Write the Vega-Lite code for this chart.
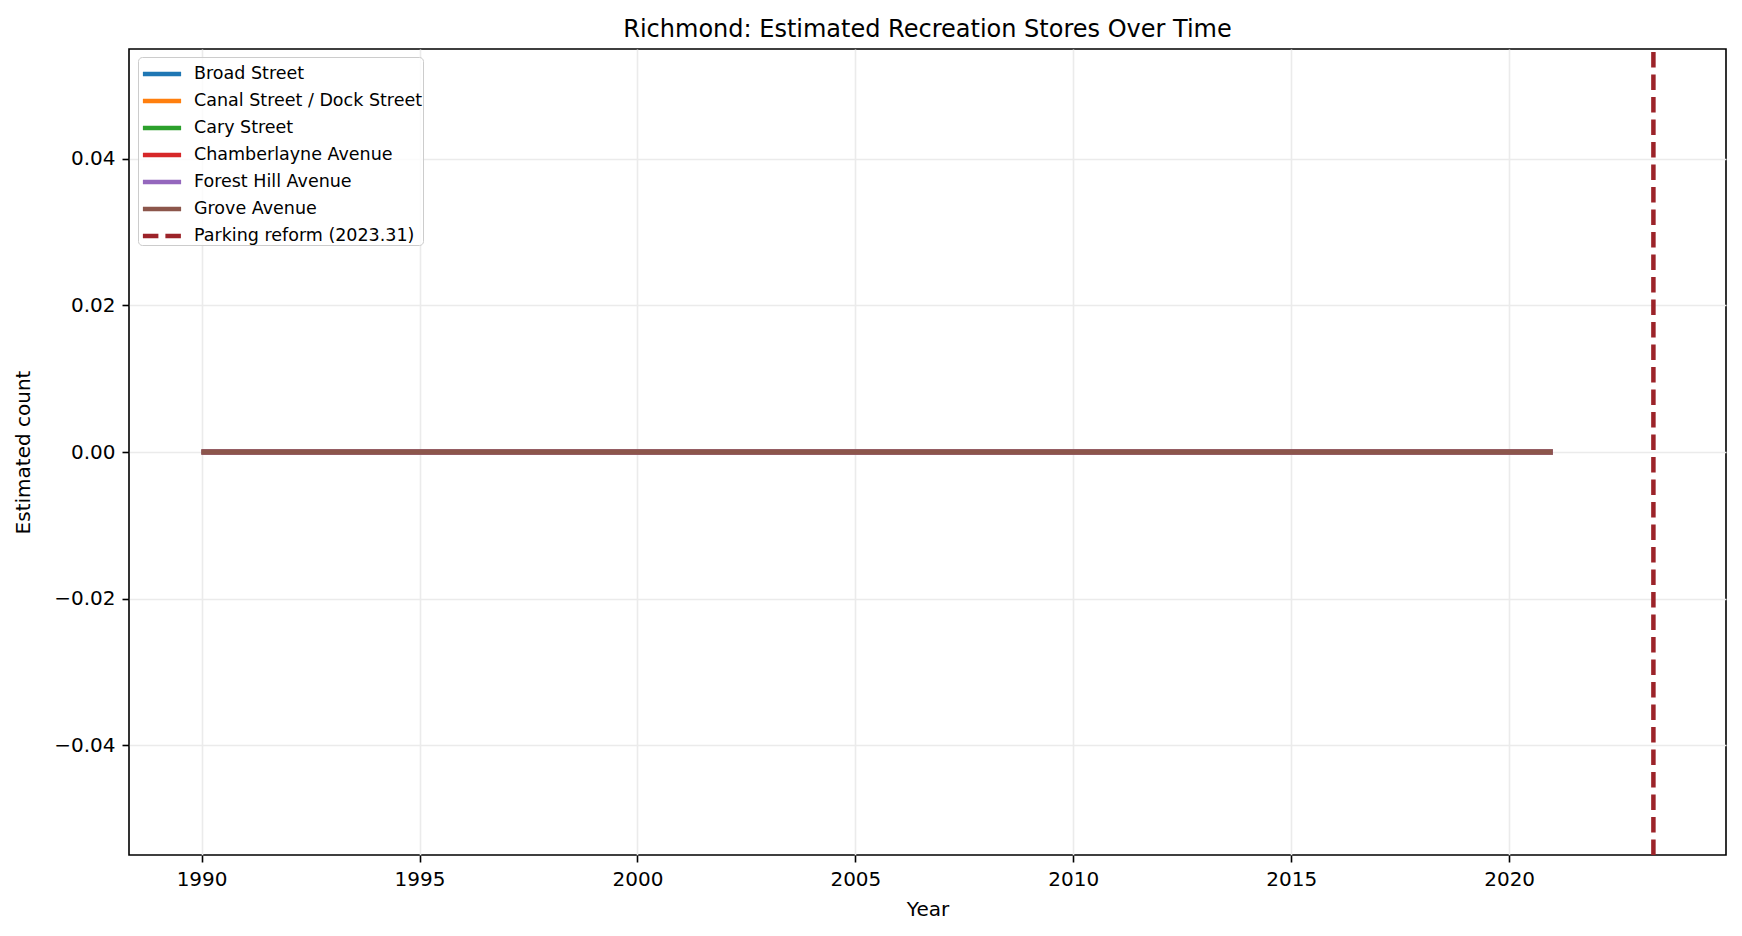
{
  "$schema": "https://vega.github.io/schema/vega-lite/v6.json",
  "width": 1597,
  "height": 806,
  "autosize": {"type": "none"},
  "padding": {"left": 129, "top": 49, "right": 16, "bottom": 81},
  "background": "white",
  "title": {
    "text": "Richmond: Estimated Recreation Stores Over Time",
    "font": "DejaVu Sans",
    "fontSize": 24,
    "fontWeight": "normal",
    "color": "black",
    "anchor": "middle",
    "frame": "group",
    "baseline": "alphabetic",
    "offset": 12,
    "dy": 26
  },
  "config": {
    "view": {"stroke": "black", "strokeWidth": 1.6},
    "axis": {
      "labelFont": "DejaVu Sans",
      "labelFontSize": 20,
      "labelColor": "black",
      "labelPadding": 7,
      "tickColor": "black",
      "tickSize": 7,
      "tickWidth": 1.6,
      "domain": false,
      "grid": true,
      "gridColor": "#ebebeb",
      "gridWidth": 1.6,
      "titleFont": "DejaVu Sans",
      "titleFontSize": 20,
      "titleFontWeight": "normal",
      "titleColor": "black"
    },
    "legend": {
      "labelFont": "DejaVu Sans",
      "labelFontSize": 17.5,
      "labelColor": "black",
      "labelLimit": 0,
      "symbolType": "M-1.3,0H1.3",
      "symbolSize": 864,
      "symbolStrokeWidth": 4.5,
      "symbolOffset": 7,
      "labelOffset": 15,
      "rowPadding": 1,
      "padding": 0,
      "strokeColor": "#cccccc",
      "fillColor": "rgba(255,255,255,0.8)",
      "cornerRadius": 4
    }
  },
  "layer": [
    {
      "data": {
        "values": [
          {"street": "Broad Street", "year": 1990, "count": 0},
          {"street": "Broad Street", "year": 1995, "count": 0},
          {"street": "Broad Street", "year": 2000, "count": 0},
          {"street": "Broad Street", "year": 2005, "count": 0},
          {"street": "Broad Street", "year": 2010, "count": 0},
          {"street": "Broad Street", "year": 2015, "count": 0},
          {"street": "Broad Street", "year": 2020, "count": 0},
          {"street": "Broad Street", "year": 2021, "count": 0},
          {"street": "Canal Street / Dock Street", "year": 1990, "count": 0},
          {"street": "Canal Street / Dock Street", "year": 1995, "count": 0},
          {"street": "Canal Street / Dock Street", "year": 2000, "count": 0},
          {"street": "Canal Street / Dock Street", "year": 2005, "count": 0},
          {"street": "Canal Street / Dock Street", "year": 2010, "count": 0},
          {"street": "Canal Street / Dock Street", "year": 2015, "count": 0},
          {"street": "Canal Street / Dock Street", "year": 2020, "count": 0},
          {"street": "Canal Street / Dock Street", "year": 2021, "count": 0},
          {"street": "Cary Street", "year": 1990, "count": 0},
          {"street": "Cary Street", "year": 1995, "count": 0},
          {"street": "Cary Street", "year": 2000, "count": 0},
          {"street": "Cary Street", "year": 2005, "count": 0},
          {"street": "Cary Street", "year": 2010, "count": 0},
          {"street": "Cary Street", "year": 2015, "count": 0},
          {"street": "Cary Street", "year": 2020, "count": 0},
          {"street": "Cary Street", "year": 2021, "count": 0},
          {"street": "Chamberlayne Avenue", "year": 1990, "count": 0},
          {"street": "Chamberlayne Avenue", "year": 1995, "count": 0},
          {"street": "Chamberlayne Avenue", "year": 2000, "count": 0},
          {"street": "Chamberlayne Avenue", "year": 2005, "count": 0},
          {"street": "Chamberlayne Avenue", "year": 2010, "count": 0},
          {"street": "Chamberlayne Avenue", "year": 2015, "count": 0},
          {"street": "Chamberlayne Avenue", "year": 2020, "count": 0},
          {"street": "Chamberlayne Avenue", "year": 2021, "count": 0},
          {"street": "Forest Hill Avenue", "year": 1990, "count": 0},
          {"street": "Forest Hill Avenue", "year": 1995, "count": 0},
          {"street": "Forest Hill Avenue", "year": 2000, "count": 0},
          {"street": "Forest Hill Avenue", "year": 2005, "count": 0},
          {"street": "Forest Hill Avenue", "year": 2010, "count": 0},
          {"street": "Forest Hill Avenue", "year": 2015, "count": 0},
          {"street": "Forest Hill Avenue", "year": 2020, "count": 0},
          {"street": "Forest Hill Avenue", "year": 2021, "count": 0},
          {"street": "Grove Avenue", "year": 1990, "count": 0},
          {"street": "Grove Avenue", "year": 1995, "count": 0},
          {"street": "Grove Avenue", "year": 2000, "count": 0},
          {"street": "Grove Avenue", "year": 2005, "count": 0},
          {"street": "Grove Avenue", "year": 2010, "count": 0},
          {"street": "Grove Avenue", "year": 2015, "count": 0},
          {"street": "Grove Avenue", "year": 2020, "count": 0},
          {"street": "Grove Avenue", "year": 2021, "count": 0}
        ]
      },
      "mark": {"type": "line", "strokeWidth": 5, "strokeCap": "butt"},
      "encoding": {
        "x": {
          "field": "year",
          "type": "quantitative",
          "scale": {"domain": [1988.3345, 2024.9755], "nice": false, "zero": false},
          "axis": {
            "values": [1990, 1995, 2000, 2005, 2010, 2015, 2020],
            "format": "d",
            "title": "Year",
            "titleX": 798.5,
            "titleY": 60,
            "titleBaseline": "alphabetic",
            "titleAlign": "center"
          }
        },
        "y": {
          "field": "count",
          "type": "quantitative",
          "scale": {"domain": [-0.055, 0.055], "nice": false, "zero": false},
          "axis": {
            "values": [-0.04, -0.02, 0, 0.02, 0.04],
            "format": ".2f",
            "title": "Estimated count",
            "titleX": -106,
            "titleY": 403,
            "titleAngle": -90,
            "titleBaseline": "middle",
            "titleAlign": "center"
          }
        },
        "color": {
          "field": "street",
          "type": "nominal",
          "scale": {
            "domain": ["Broad Street", "Canal Street / Dock Street", "Cary Street", "Chamberlayne Avenue", "Forest Hill Avenue", "Grove Avenue", "Parking reform (2023.31)"],
            "range": ["#1f77b4", "#ff7f0e", "#2ca02c", "#d62728", "#9467bd", "#8c564b", "#9c2329"]
          },
          "legend": {"title": null, "orient": "none", "legendX": 9, "legendY": 8}
        },
        "strokeDash": {
          "field": "street",
          "type": "nominal",
          "scale": {
            "domain": ["Broad Street", "Canal Street / Dock Street", "Cary Street", "Chamberlayne Avenue", "Forest Hill Avenue", "Grove Avenue", "Parking reform (2023.31)"],
            "range": [[1, 0], [1, 0], [1, 0], [1, 0], [1, 0], [1, 0], [15.5, 7]]
          },
          "legend": {"title": null, "orient": "none", "legendX": 9, "legendY": 8}
        }
      }
    },
    {
      "data": {"values": [{"street": "Parking reform (2023.31)", "year": 2023.31}]},
      "mark": {"type": "rule", "strokeWidth": 4.5, "strokeCap": "butt", "strokeDash": [15.5, 7]},
      "encoding": {
        "x": {"field": "year", "type": "quantitative"},
        "y": {"datum": -0.055},
        "y2": {"datum": 0.055},
        "color": {"field": "street", "type": "nominal"}
      }
    }
  ]
}
